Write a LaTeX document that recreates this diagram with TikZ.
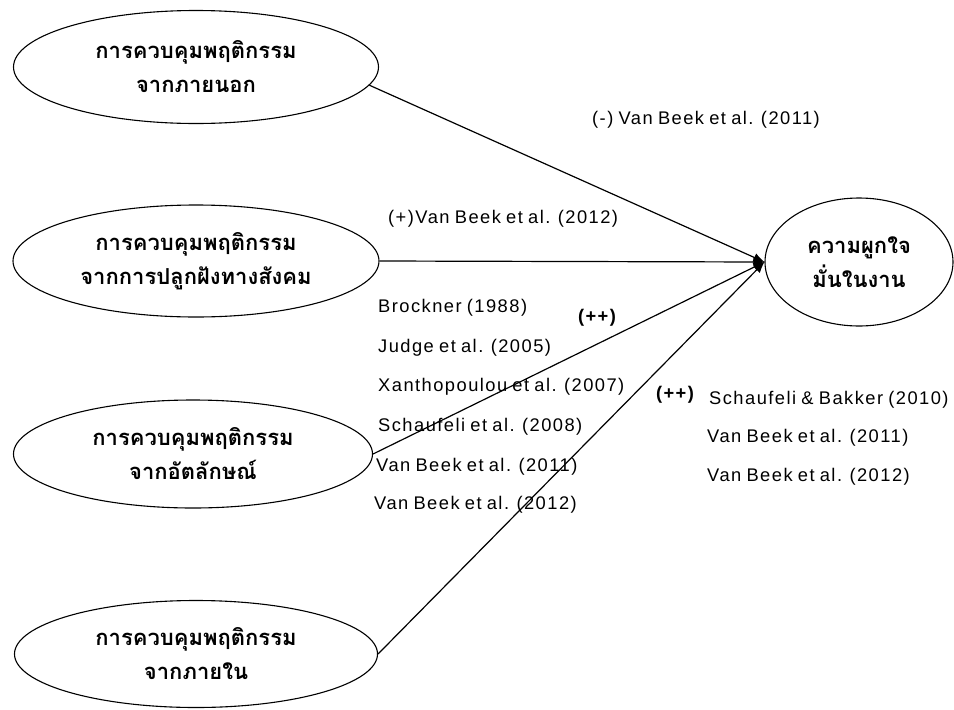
\documentclass[tikz,border=0pt]{standalone}
\usepackage{fontspec}
\setmainfont{Liberation Sans}
\newfontfamily\thaifont[Script=Thai]{Loma}
\newfontfamily\reffont[LetterSpace=8,WordSpace=0.8]{Liberation Sans}
\usetikzlibrary{shapes.geometric,arrows.meta}
\begin{document}
\begin{tikzpicture}[x=1pt,y=-1pt,
  construct/.style={ellipse,draw,line width=1.1pt,inner sep=0pt,align=center,
    font=\thaifont\bfseries\fontsize{22}{34}\selectfont},
  link/.style={line width=1.2pt,-{Latex[length=11pt,width=9pt]}},
  cite/.style={anchor=west,inner sep=0pt,font=\reffont\fontsize{18.3}{20}\selectfont},
  sign/.style={inner sep=0pt,font=\reffont\bfseries\fontsize{18.3}{20}\selectfont}]
\useasboundingbox (0,0) rectangle (954,710);

% antecedent constructs
\node[construct,minimum width=365pt,minimum height=113pt] (ext) at (196,67)
  {การควบคุมพฤติกรรม\\จากภายนอก};
\node[construct,minimum width=366pt,minimum height=112pt] (soc) at (196,261)
  {การควบคุมพฤติกรรม\\จากการปลูกฝังทางสังคม};
\node[construct,minimum width=359pt,minimum height=108pt] (idn) at (193,454)
  {การควบคุมพฤติกรรม\\จากอัตลักษณ์};
\node[construct,minimum width=363pt,minimum height=107pt] (int) at (196,654)
  {การควบคุมพฤติกรรม\\จากภายใน};

% outcome construct
\node[construct,minimum width=188pt,minimum height=128pt] (eng) at (859,262)
  {ความผูกใจ\\มั่นในงาน};

% paths into the outcome
\draw[link] (ext.-6) -- (eng.west);
\draw[link] (soc.east) -- (eng.west);
\draw[link] (idn.east) -- (eng.west);
\draw[link] (int.east) -- (eng.west);

% supporting studies
\node[cite] (c1) at (592,120) {(-) Van Beek et al. (2011)};
\node[cite] (c2) at (388,219) {(+)Van Beek et al. (2012)};

\node[cite] (b1) at (378,308) {Brockner (1988)};
\node[cite] (b2) at (378,348) {Judge et al. (2005)};
\node[cite] (b3) at (378,387) {Xanthopoulou et al. (2007)};
\node[cite] (b4) at (378,427) {Schaufeli et al. (2008)};
\node[cite] (b5) at (376,467) {Van Beek et al. (2011)};
\node[cite] (b6) at (374,505) {Van Beek et al. (2012)};
\node[sign] (p1) at (597,318) {(++)};

\node[sign] (p2) at (675,395) {(++)};
\node[cite] (s1) at (709,400) {Schaufeli \& Bakker (2010)};
\node[cite] (s2) at (707,438) {Van Beek et al. (2011)};
\node[cite] (s3) at (707,477) {Van Beek et al. (2012)};
\end{tikzpicture}
\end{document}
